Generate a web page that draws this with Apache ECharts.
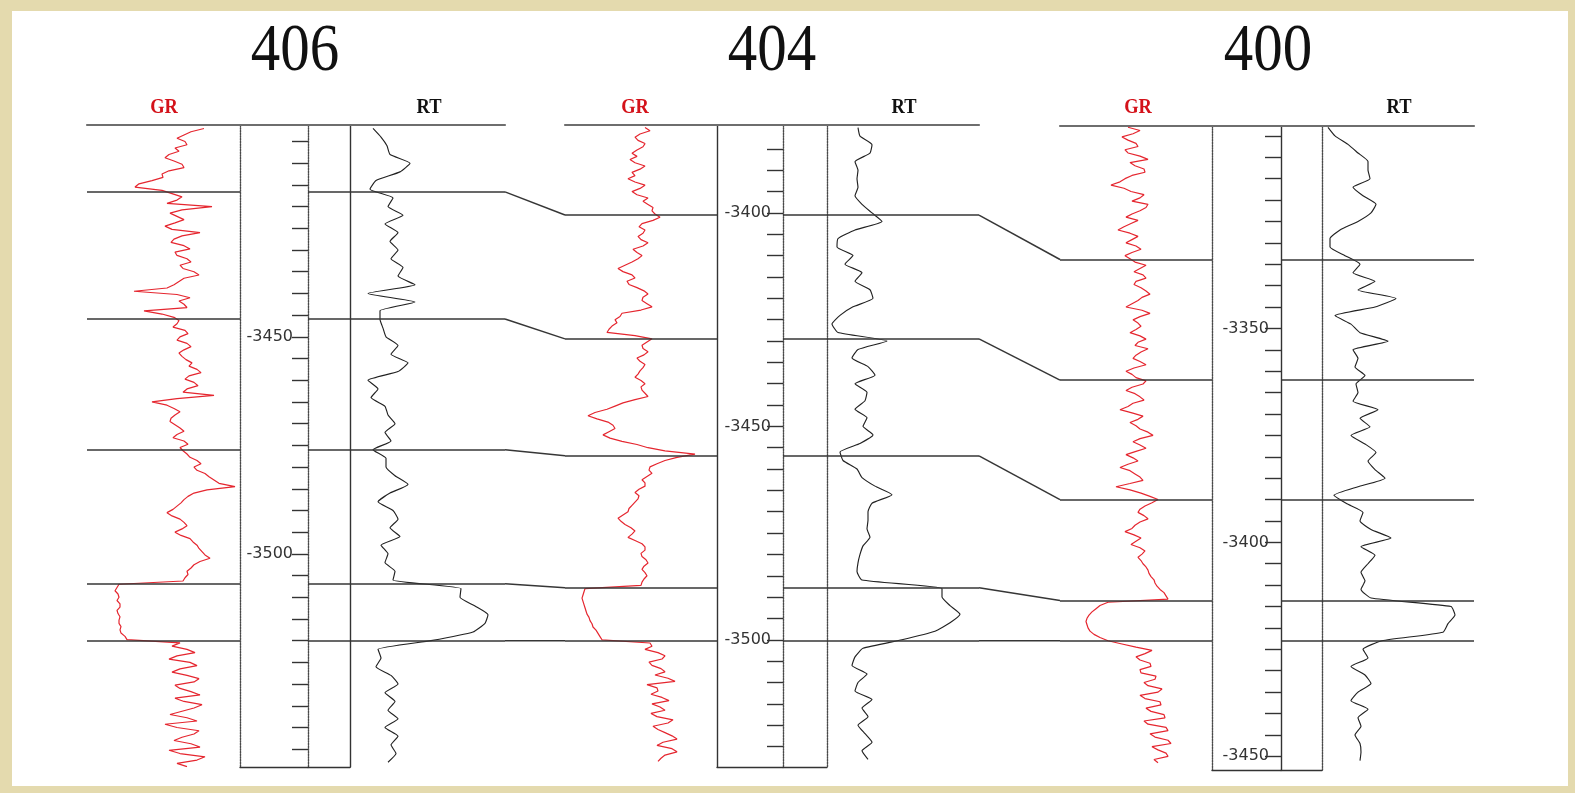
<!DOCTYPE html>
<html><head><meta charset="utf-8">
<script src="https://cdn.jsdelivr.net/npm/echarts@6.0.0/dist/echarts.min.js"></script>
<style>html,body{margin:0;padding:0;background:#e4daae}#c{width:1575px;height:793px}</style>
</head><body><div id="c"></div>
<script>
// ---------------- DATA ----------------
const wellNames = ['406', '404', '400'];
const grStep = 0.75;  // m between GR samples
const rtStep = 2;     // m between RT samples

// Well 406
const grTop406 = 3402;
const gr406 = [117,104,97,90,98,100,88,92,82,78,87,95,97,82,75,76,65,52,48,75,
  85,95,90,80,125,95,83,90,97,88,78,85,113,95,87,84,97,103,88,90,
  100,104,93,96,107,112,97,92,87,80,47,90,103,92,97,100,57,75,87,92,
  90,86,98,101,93,90,100,104,97,92,95,99,105,102,110,114,102,98,107,111,
  100,96,127,90,65,80,87,93,88,84,83,88,93,97,90,86,97,101,93,96,
  100,103,110,114,107,110,118,122,127,132,148,120,107,101,97,94,90,86,80,85,
  93,97,100,95,88,94,103,106,110,112,115,118,123,113,107,104,100,101,98,96,
  32,30,28,31,32,30,33,33,30,31,33,32,32,34,33,34,38,40,93,85,
  100,108,90,82,103,110,93,85,100,112,107,88,93,104,113,88,97,115,107,95,
  83,100,110,78,90,112,107,95,87,104,113,82,93,118,110,90,100];
const rtTop406 = 3402;
const rt406 = [23,31,37,40,60,50,26,20,43,38,
  53,35,48,40,48,41,53,48,65,18,
  65,30,30,33,36,48,41,58,48,18,
  28,21,35,38,45,35,41,23,36,36,
  45,58,40,28,43,48,40,50,31,38,
  35,45,43,111,110,125,138,135,123,81,
  28,31,26,41,48,35,45,38,48,35,
  48,41,46,38];
const markers406 = [3416.6, 3445.9, 3476.0, 3506.9, 3520.0];
const range406 = [3401.2, 3549.1];
const labels406 = [3450, 3500];

// Well 404
const grTop404 = 3380;
const gr404 = [80,85,75,70,73,80,78,72,67,72,65,70,80,75,67,70,63,70,80,75,
  67,72,83,78,83,88,87,90,95,88,77,74,80,78,73,76,83,78,68,72,
  77,73,67,60,53,58,67,70,62,64,72,79,83,78,77,82,87,76,57,55,
  50,52,47,44,42,70,87,82,77,78,83,79,72,75,80,78,75,73,70,76,
  80,76,77,80,83,70,58,50,42,30,23,32,43,48,50,44,38,45,57,72,
  83,100,130,112,100,92,85,84,87,82,77,80,80,74,70,74,73,70,67,64,
  63,58,53,56,60,66,70,67,63,70,77,80,80,76,77,81,83,79,77,80,
  82,79,77,76,20,19,18,17,18,19,20,21,22,24,25,27,28,31,33,35,
  37,85,87,80,93,100,97,84,87,96,100,90,103,110,82,92,93,86,97,104,
  87,95,100,86,92,108,103,88,93,100,107,112,98,92,107,112,100,96,93];
const rtTop404 = 3380;
const rt404 = [31,33,45,43,28,31,30,31,28,35,
  45,55,28,11,10,26,18,35,28,43,
  46,26,13,5,11,60,31,25,41,48,
  28,40,38,28,40,36,46,33,13,16,
  30,35,48,65,45,41,41,40,43,36,
  33,31,30,35,115,115,123,133,123,108,
  75,36,28,25,40,31,28,45,35,41,
  31,38,45,35,41];
const markers404 = [3400.5, 3429.5, 3456.9, 3487.8, 3500.2];
const range404 = [3379.4, 3529.8];
const labels404 = [3400, 3450, 3500];

// Well 400
const grTop400 = 3303;
const gr400 = [68,80,73,62,68,76,78,65,68,80,88,70,75,84,85,72,65,60,51,64,
  71,84,80,72,88,86,80,72,66,78,71,64,58,70,78,72,66,76,81,72,
  65,70,75,86,80,74,83,86,76,74,81,86,90,82,78,72,66,82,90,80,
  73,78,81,76,70,80,86,78,75,88,81,76,73,80,86,74,66,72,76,86,
  83,72,66,75,80,84,73,68,60,72,83,78,70,76,80,88,93,80,73,80,
  86,76,66,73,78,68,60,70,75,80,83,70,56,70,81,90,98,92,85,80,
  78,84,88,80,75,72,65,74,81,76,71,80,85,82,78,81,83,86,88,89,
  91,94,95,97,100,104,106,108,48,40,36,32,29,27,26,27,28,30,34,40,
  48,62,76,92,85,76,80,90,91,80,81,96,95,84,88,102,98,80,85,100,
  101,86,91,104,105,84,88,106,108,90,95,108,111,92,98,106,108,94,98];
const rtTop400 = 3303;
const rt400 = [6,13,26,36,46,46,48,31,41,54,
  49,36,18,8,8,23,38,31,53,36,
  74,53,13,29,38,66,31,36,33,43,
  34,36,31,56,38,48,29,43,54,46,
  53,63,36,12,25,41,38,49,69,39,
  53,46,39,43,39,49,129,133,126,121,
  60,41,46,29,43,49,36,29,46,36,
  39,33,38,39,38];
const markers400 = [3333.9, 3362.1, 3390.0, 3413.6, 3423.0];
const range400 = [3302.7, 3453.2];
const labels400 = [3350, 3400, 3450];

const tickSpacing = 5;
const tickSpan406 = [3405, 3545];
const tickSpan404 = [3385, 3525];
const tickSpan400 = [3305, 3450];

// ---------------- LAYOUT ----------------
const geo = [
  {grL:87,   depL:240,  depR:308,  boxR:350,  rtR:505,  top:125, bottom:767, styles:['dot','dot','solid'], lblMargin:15, title:295,  grLab:164,  rtLab:429},
  {grL:565,  depL:717,  depR:783,  boxR:827,  rtR:979,  top:125, bottom:767, styles:['solid','dot','dot'], lblMargin:12, title:772,  grLab:635,  rtLab:904},
  {grL:1060, depL:1212, depR:1281, boxR:1322, rtR:1474, top:126, bottom:770, styles:['dot','solid','dot'], lblMargin:12, title:1268, grLab:1138, rtLab:1399}
];
const wells = [
  {gr:gr406, grTop:grTop406, rt:rt406, rtTop:rtTop406, markers:markers406, range:range406, labels:labels406, tickSpan:tickSpan406},
  {gr:gr404, grTop:grTop404, rt:rt404, rtTop:rtTop404, markers:markers404, range:range404, labels:labels404, tickSpan:tickSpan404},
  {gr:gr400, grTop:grTop400, rt:rt400, rtTop:rtTop400, markers:markers400, range:range400, labels:labels400, tickSpan:tickSpan400}
];

function curve(values, top, step) {
  return values.map((v, i) => [v, Math.round((top + i * step) * 100) / 100]);
}
function tickList(span) {
  const out = [];
  for (let d = span[0]; d <= span[1] + 1e-6; d += tickSpacing) out.push(d);
  return out;
}

const markStyle = {color:'#363636', width:1.5, type:'solid'};
const topStyle = {color:'#6e6e6e', width:2.2, type:'solid'};
const lineStyles = {
  solid: {color:'#333', width:1.4, type:'solid'},
  dot:   {color:'#4a4a4a', width:1.4, type:[1.5, 1.2]}
};
function marks(depths) {
  return {silent:true, symbol:['none','none'], label:{show:false}, lineStyle:markStyle,
          emphasis:{disabled:true}, animation:false, data: depths.map(v => ({yAxis:v}))};
}

const grid = [], xAxis = [], yAxis = [], series = [], idx = [];
const hidden = {axisTick:{show:false}, axisLabel:{show:false}, splitLine:{show:false}};

wells.forEach((w, k) => {
  const g = geo[k], H = g.bottom - g.top;
  const base = grid.length;
  const gGR = base, gDep = base + 1, gBox = base + 2, gRT = base + 3;
  [[g.grL, g.depL], [g.depL, g.depR], [g.depR, g.boxR], [g.boxR, g.rtR]].forEach(([l, r]) =>
    grid.push({left:l, top:g.top, width:r - l, height:H, outerBoundsMode:'none', containLabel:false}));

  const xa = (gi, max, pos, line) => {
    xAxis.push(Object.assign({type:'value', gridIndex:gi, min:0, max:max, position:pos,
      axisLine: line ? {show:true, onZero:false, lineStyle:line} : {show:false}}, hidden));
    return xAxis.length - 1;
  };
  const ya = (gi, pos, line, extra) => {
    yAxis.push(Object.assign({type:'value', gridIndex:gi, min:w.range[0], max:w.range[1], inverse:true, position:pos,
      axisLine: line ? {show:true, onZero:false, lineStyle:line} : {show:false}}, hidden, extra || {}));
    return yAxis.length - 1;
  };

  const grMax = g.depL - g.grL, rtMax = g.rtR - g.boxR;
  const xGR = xa(gGR, grMax, 'top', topStyle);
  const yGR = ya(gGR, 'left', null);
  xa(gDep, 1, 'top', topStyle);
  xa(gDep, 1, 'bottom', lineStyles.solid);
  ya(gDep, 'left', lineStyles[g.styles[0]]);
  ya(gDep, 'right', lineStyles[g.styles[1]], {
    axisTick:{show:true, inside:true, length:16, lineStyle:{color:'#333', width:1.4}, customValues: tickList(w.tickSpan)},
    axisLabel:{show:true, inside:true, margin:g.lblMargin, customValues: w.labels, formatter: v => '-' + v,
      fontSize:16, fontFamily:'DejaVu Sans', color:'#333'},
    splitLine:{show:false}
  });
  const xBox = xa(gBox, 1, 'top', topStyle);
  xa(gBox, 1, 'bottom', lineStyles.solid);
  const yBox = ya(gBox, 'right', lineStyles[g.styles[2]]);
  const xRT = xa(gRT, rtMax, 'top', topStyle);
  const yRT = ya(gRT, 'left', null);

  series.push({type:'line', name:'GR ' + wellNames[k], xAxisIndex:xGR, yAxisIndex:yGR,
    data: curve(w.gr, w.grTop, grStep), symbol:'none', z:3,
    lineStyle:{color:'#e5262f', width:1.2}, markLine: marks(w.markers)});
  series.push({type:'line', name:'box ' + wellNames[k], xAxisIndex:xBox, yAxisIndex:yBox,
    data: [[0, w.range[0]]], symbol:'none', lineStyle:{opacity:0}, z:2, markLine: marks(w.markers)});
  series.push({type:'line', name:'RT ' + wellNames[k], xAxisIndex:xRT, yAxisIndex:yRT,
    data: curve(w.rt, w.rtTop, rtStep), symbol:'none', z:3, smooth:0.15,
    lineStyle:{color:'#222', width:1.15}, markLine: marks(w.markers)});
  idx.push({gGR, gRT, rtMax});
});

const chart = echarts.init(document.getElementById('c'), null, {renderer:'canvas'});
chart.setOption({backgroundColor:'#e4daae', animation:false, grid, xAxis, yAxis, series});

// ---------------- graphics: panel, titles, correlation links ----------------
const graphics = [
  {type:'rect', shape:{x:12, y:11, width:1556, height:775}, style:{fill:'#ffffff'}, z:-10, silent:true}
];
geo.forEach((g, k) => {
  graphics.push({type:'text', x:g.title, y:52, scaleX:0.88, silent:true, z:5,
    style:{text:wellNames[k], font:'67px "Liberation Serif"', fill:'#111', textAlign:'center', textVerticalAlign:'middle'}});
  graphics.push({type:'text', x:g.grLab, y:108, scaleX:0.88, silent:true, z:5,
    style:{text:'GR', font:'bold 21px "Liberation Serif"', fill:'#d4121a', textAlign:'center', textVerticalAlign:'middle'}});
  graphics.push({type:'text', x:g.rtLab, y:108, scaleX:0.88, silent:true, z:5,
    style:{text:'RT', font:'bold 21px "Liberation Serif"', fill:'#111', textAlign:'center', textVerticalAlign:'middle'}});
});
for (let k = 0; k < wells.length - 1; k++) {
  wells[k].markers.forEach((d, m) => {
    const a = chart.convertToPixel({gridIndex: idx[k].gRT}, [idx[k].rtMax, d]);
    const b = chart.convertToPixel({gridIndex: idx[k + 1].gGR}, [0, wells[k + 1].markers[m]]);
    graphics.push({type:'polyline', shape:{points:[a, b]}, silent:true, z:5,
      style:{stroke:'#363636', lineWidth:1.5, fill:null}});
  });
}
chart.setOption({graphic: graphics});
</script>
</body></html>
